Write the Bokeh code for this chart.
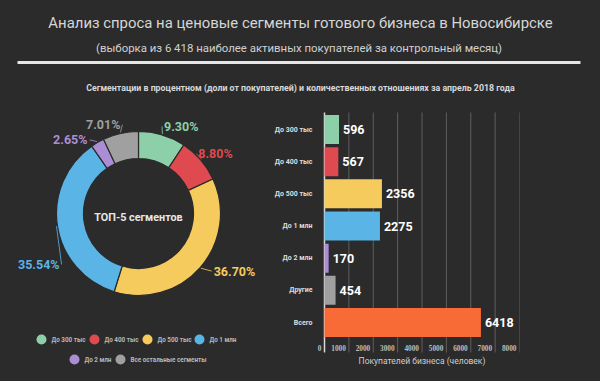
import numpy as np
from bokeh.plotting import figure
from bokeh.models import Range1d, FixedTicker, ColumnDataSource, LabelSet
from bokeh.layouts import column, row
from bokeh.embed import file_html
from bokeh.resources import INLINE
from bokeh.core.properties import value

# ---------------- data ----------------
title_text = "Анализ спроса на ценовые сегменты готового бизнеса в Новосибирске"
subtitle_text = "(выборка из 6 418  наиболее активных покупателей за контрольный месяц)"
section_text = "Сегментации в процентном (доли от покупателей) и количественных отношениях за апрель 2018 года"
center_text = "ТОП-5 сегментов"

seg_names = ["До 300 тыс", "До 400 тыс", "До 500 тыс", "До 1 млн", "До 2 млн", "Все остальные сегменты"]
seg_share = [9.30, 8.80, 36.70, 35.54, 2.65, 7.01]

bar_cats = ["До 300 тыс", "До 400 тыс", "До 500 тыс", "До 1 млн", "До 2 млн", "Другие", "Всего"]
bar_vals = [596, 567, 2356, 2275, 170, 454, 6418]

x_ticks = [0, 1000, 2000, 3000, 4000, 5000, 6000, 7000, 8000]
x_title = "Покупателей бизнеса (человек)"

# ---------------- style ----------------
BG = "#2b2b2b"
FONT = "Roboto"
seg_colors = ["#8dcfa9", "#df4a50", "#f5cb5e", "#5bb4e6", "#ab8dd6", "#a0a0a0"]
bar_colors = seg_colors[:5] + ["#a0a0a0", "#f86a36"]
# label nudges (px, x right / y up) for the donut percentage labels
label_nudge = [(-1, -1), (-10, 0), (6, 3), (12, -37), (-5, -6), (2, -1)]
# legend layout (px relative to donut centre)
legend_pos = [(-97, -126), (-44, -126), (9, -126), (61, -126), (-64, -146), (-18, -146)]

W, H = 600, 381
HDR_H = 100
DN_W = 270


def base_fig(w, h, xr, yr, **kw):
    p = figure(width=w, height=h, x_range=xr, y_range=yr, output_backend="svg",
               toolbar_location=None, min_border=0, **kw)
    p.background_fill_color = BG
    p.border_fill_color = BG
    p.outline_line_color = None
    return p


# ---------------- header ----------------
hdr = base_fig(W, HDR_H, Range1d(0, W), Range1d(HDR_H, 0),
               x_axis_location=None, y_axis_location=None)
hdr.grid.visible = False
hdr.text(x=[300], y=[22], text=[title_text], text_align="center", text_baseline="middle",
         text_font=value(FONT), text_font_size="14.9px", text_color="#d6d6d6")
hdr.text(x=[300], y=[47], text=[subtitle_text], text_align="center", text_baseline="middle",
         text_font=value(FONT), text_font_size="11.4px", text_color="#d0d0d0")
hdr.segment(x0=[17], y0=[62], x1=[580], y1=[62], line_color="#e6e6e6", line_width=3)
hdr.text(x=[300], y=[87], text=[section_text], text_align="center", text_baseline="middle",
         text_font=value(FONT), text_font_size="8.8px", text_font_style="bold",
         text_color="#d8d8d8")

# ---------------- donut ----------------
CX, CY = 138, 213  # donut centre on the page
dn = base_fig(DN_W, H - HDR_H, Range1d(-CX, DN_W - CX), Range1d(CY - H, CY - HDR_H),
              x_axis_location=None, y_axis_location=None)
dn.grid.visible = False

shares = np.array(seg_share, dtype=float)
frac = shares / shares.sum()
cum = np.cumsum(frac)
start_frac = cum - frac
start_ang = np.pi / 2 - 2 * np.pi * start_frac
end_ang = np.pi / 2 - 2 * np.pi * cum
mid_ang = np.pi / 2 - 2 * np.pi * (start_frac + frac / 2)

R_IN, R_OUT, R_LAB = 55, 82, 92
dn.annular_wedge(x=0, y=0, inner_radius=R_IN, outer_radius=R_OUT,
                 start_angle=start_ang, end_angle=end_ang, direction="clock",
                 fill_color=seg_colors, line_color=BG, line_width=1.2)

ax = R_LAB * np.cos(mid_ang) + np.array([n[0] for n in label_nudge])
ay = R_LAB * np.sin(mid_ang) + np.array([n[1] for n in label_nudge])
right_side = np.cos(mid_ang) > 0
right_side[3] = False
align = ["left" if r else "right" for r in right_side]
gap = np.where(right_side, -2, 2)
dn.segment(x0=(R_OUT + 1) * np.cos(mid_ang), y0=(R_OUT + 1) * np.sin(mid_ang),
           x1=ax + gap, y1=ay, line_color=seg_colors, line_width=1, line_alpha=0.8)
lab_src = ColumnDataSource(dict(x=ax, y=ay, t=[f"{v:.2f}%" for v in seg_share],
                                c=seg_colors, a=align))
dn.text(x="x", y="y", text="t", text_color="c", text_align="a", text_baseline="middle",
        text_font=value(FONT), text_font_size="12.5px", text_font_style="bold",
        source=lab_src)
dn.text(x=[0], y=[-4], text=[center_text], text_align="center", text_baseline="middle",
        text_font=value(FONT), text_font_size="10.8px", text_font_style="bold",
        text_color="#e6e6e6")

lx = [p[0] for p in legend_pos]
ly = [p[1] for p in legend_pos]
dn.scatter(x=lx, y=ly, size=10, marker="circle", fill_color=seg_colors, line_color=None)
dn.text(x=lx, y=ly, text=seg_names, x_offset=10, text_align="left", text_baseline="middle",
        text_font=value(FONT), text_font_size="6.3px", text_font_style="bold",
        text_color="#b8b8b8")

# ---------------- bars ----------------
BX0, BX1 = 324, 519          # page x of value 0 and of value 8000
FRAME_L = 314                # frame starts a little left of zero (room for the "0" label)
ROW0, ROW_PX = 129, 32.17    # page y of first bar centre, px per category row
GRID_TOP, GRID_BOT = 112, 352
XMAX = x_ticks[-1]
x_per_px = XMAX / (BX1 - BX0)
def y_of(page_y):
    return (page_y - ROW0) / ROW_PX

bp = base_fig(W - DN_W, H - HDR_H,
              Range1d(-(BX0 - FRAME_L) * x_per_px, XMAX), Range1d(y_of(H), y_of(HDR_H)),
              min_border_left=FRAME_L - DN_W, min_border_right=W - BX1,
              min_border_top=0, min_border_bottom=0, x_axis_location=None)
idx = list(range(len(bar_cats)))
g0, g1 = y_of(GRID_TOP), y_of(GRID_BOT)

bp.grid.visible = False
bp.segment(x0=x_ticks[1:], y0=g0, x1=x_ticks[1:], y1=g1, line_color="#5f5f5f", line_width=1)
# value axis baseline at zero
bp.segment(x0=[x_ticks[0]], y0=[g0], x1=[x_ticks[0]], y1=[g1], line_color="#d8d8d8",
           line_width=1.5)

bp.hbar(y=idx, right=bar_vals, left=0, height=0.9, fill_color=bar_colors, line_color=None)
bp.text(x=bar_vals, y=idx, text=[str(v) for v in bar_vals], x_offset=4,
        text_align="left", text_baseline="middle", text_font=value(FONT),
        text_font_size="12.5px", text_font_style="bold", text_color="#ffffff")

bp.yaxis.ticker = FixedTicker(ticks=idx)
bp.yaxis.major_label_overrides = {i: c for i, c in enumerate(bar_cats)}
bp.yaxis.major_tick_line_color = None
bp.yaxis.minor_tick_line_color = None
bp.yaxis.major_label_standoff = -(BX0 - FRAME_L) + 6
bp.yaxis.major_label_text_font = FONT
bp.yaxis.major_label_text_font_size = "7px"
bp.yaxis.major_label_text_font_style = "bold"
bp.yaxis.major_label_text_color = "#dddddd"
bp.yaxis.axis_line_color = None

tick_src = ColumnDataSource(dict(x=x_ticks, y=[y_of(347)] * len(x_ticks),
                                 t=[str(t) for t in x_ticks]))
bp.add_layout(LabelSet(x="x", y="y", text="t", source=tick_src, text_align="right",
                       text_baseline="middle", x_offset=-3, text_font=FONT,
                       text_font_size="7.3px", text_font_style="bold", text_color="#bdbdbd"))
bp.text(x=[(x_ticks[0] + x_ticks[-1]) / 2], y=[y_of(360)], text=[x_title],
        text_align="center", text_baseline="middle", text_font=value(FONT),
        text_font_size="8.5px", text_color="#cfcfcf")

layout = column(hdr, row(dn, bp))

html = file_html(layout, INLINE)
html = html.replace("</head>", f"<style>html,body{{background:{BG};margin:0;}}</style></head>", 1)
open("out.html", "w").write(html)
